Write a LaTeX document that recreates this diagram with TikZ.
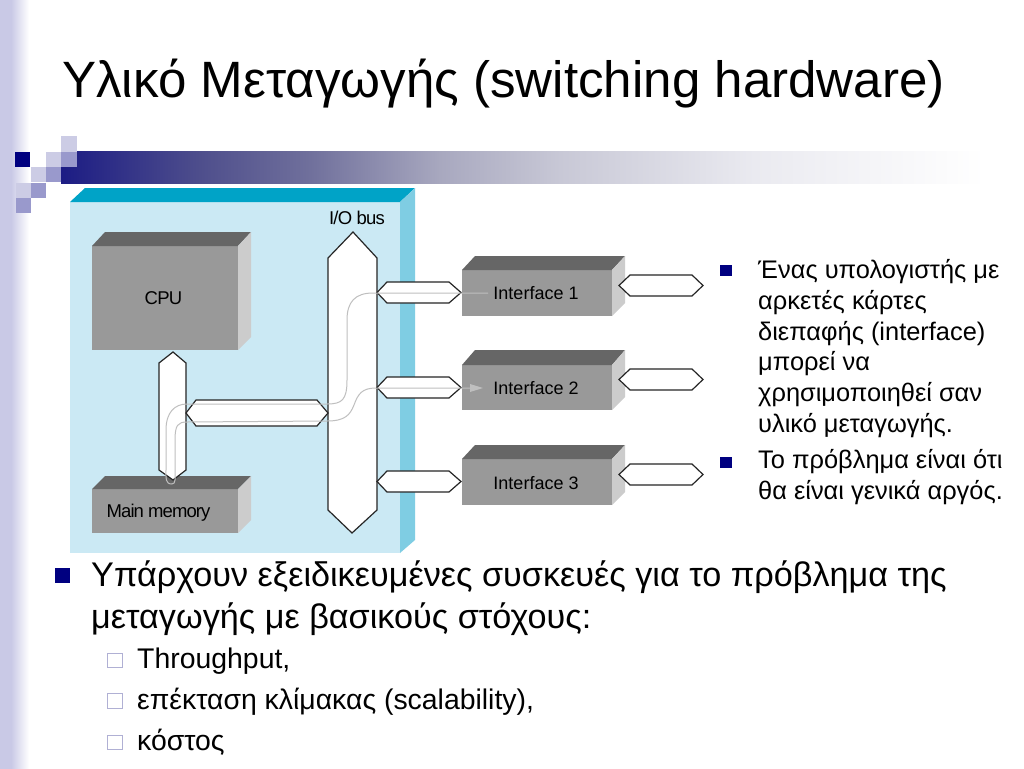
\documentclass[tikz,border=0pt]{standalone}
\usepackage{fontspec}
\setmainfont{Liberation Sans}
\definecolor{barA}{HTML}{1C1C84}
\definecolor{barB}{HTML}{4E4E8C}
\definecolor{barC}{HTML}{70709C}
\definecolor{barD}{HTML}{A8A8BF}
\definecolor{barE}{HTML}{C8C8D6}
\definecolor{barF}{HTML}{EAEAF0}
\definecolor{stripA}{HTML}{C9C9E6}
\definecolor{navy}{HTML}{000080}
\definecolor{midsq}{HTML}{9999CC}
\definecolor{lightsq}{HTML}{CCCCE5}
\definecolor{panelfront}{HTML}{CBE9F4}
\definecolor{paneltop}{HTML}{00A3C7}
\definecolor{panelside}{HTML}{7FCDE3}
\definecolor{boxfront}{HTML}{999999}
\definecolor{boxtop}{HTML}{666666}
\definecolor{boxside}{HTML}{CCCCCC}
\definecolor{wire}{HTML}{BFBFBF}
\definecolor{hollowedge}{HTML}{B0B0D4}
\pgfdeclarehorizontalshading{barshade}{100bp}{color(0bp)=(barA); color(25bp)=(barA); color(32.5bp)=(barB); color(38.5bp)=(barC); color(45.5bp)=(barD); color(52bp)=(barE); color(62.5bp)=(barF); color(75bp)=(white); color(100bp)=(white)}
\pgfdeclarehorizontalshading{stripshade}{100bp}{color(0bp)=(stripA); color(25bp)=(stripA); color(44bp)=(stripA); color(75bp)=(white); color(100bp)=(white)}
\tikzset{
  hex/.style={draw=black!85,fill=white,line width=1.2pt,line join=miter},
  wireline/.style={draw=wire,line width=1pt},
  label/.style={anchor=base,inner sep=0pt,font=\fontsize{18}{18}\selectfont,text=black},
  tightlabel/.style={anchor=base,inner sep=0pt,font=\fontsize{18.5}{18.5}\selectfont\addfontfeature{LetterSpace=-4},text=black},
  tighterlabel/.style={anchor=base,inner sep=0pt,font=\fontsize{18.5}{18.5}\selectfont\addfontfeature{LetterSpace=-5},text=black},
  titletext/.style={anchor=base west,inner sep=0pt,font=\fontsize{51.1}{51.1}\selectfont},
  bodyA/.style={anchor=base west,inner sep=0pt,font=\fontsize{34.2}{34.2}\selectfont},
  bodyB/.style={anchor=base west,inner sep=0pt,font=\fontsize{28.4}{28.4}\selectfont},
  bodyC/.style={anchor=base west,inner sep=0pt,font=\fontsize{25.4}{25.4}\selectfont},
  bulletfull/.style={fill=navy},
  bullethollow/.style={draw=hollowedge,line width=1pt,fill=white},
}
\newcommand{\ibox}[5]{% x0 x1 ytop yfront ybottom
  \fill[boxfront] (#1,#4) rectangle (#2,#5);
  \fill[boxtop] (#1,#4) -- ({#1+13},#3) -- ({#2+13},#3) -- (#2,#4) -- cycle;
  \fill[boxside] (#2,#4) -- ({#2+13},#3) -- ({#2+13},{#5-13}) -- (#2,#5) -- cycle;
}
\newcommand{\hexh}[6]{% tipL shL shR tipR ytop ybot
  \draw[hex] (#1,{(#5+#6)/2}) -- (#2,#5) -- (#3,#5) -- (#4,{(#5+#6)/2}) -- (#3,#6) -- (#2,#6) -- cycle;
}
\begin{document}
\begin{tikzpicture}[x=1pt,y=-1pt]
\useasboundingbox (0,0) rectangle (1024,768);
\fill[white] (0,0) rectangle (1024,768);
% background strip and bar
\shade[shading=stripshade] (0,0) rectangle (29,768);
\shade[shading=barshade] (61,151) rectangle (985,183);
% squares
\fill[white] (61,151) rectangle (77,152);
\fill[navy] (15,152) rectangle (30,167);
\fill[lightsq] (46,152) rectangle (61,167);
\fill[midsq] (61,152) rectangle (77,167);
\fill[lightsq] (61,136) rectangle (77,152);
\fill[lightsq] (31,167) rectangle (46,182);
\fill[midsq] (46,167) rectangle (61,182);
\fill[lightsq] (16,183) rectangle (31,198);
\fill[midsq] (31,183) rectangle (46,198);
\fill[midsq] (16,198) rectangle (31,213);
% title
\node[titletext] (title) at (62,97) {Υλικό Μεταγωγής (switching hardware)};
% panel
\fill[panelfront] (70,202) rectangle (400,553);
\fill[paneltop] (70,202) -- (85,188) -- (415,188) -- (400,202) -- cycle;
\fill[panelside] (400,202) -- (415,188) -- (415,540) -- (400,553) -- cycle;
% boxes
\fill[boxfront] (92,246) rectangle (238,350);
\fill[boxtop] (92,246) -- (105,232) -- (251,232) -- (238,246) -- cycle;
\fill[boxside] (238,246) -- (251,232) -- (251,337) -- (238,350) -- cycle;
\ibox{92}{238}{476}{489}{533}
\ibox{462}{612}{256}{270}{316}
\ibox{462}{612}{350}{365}{410}
\ibox{462}{612}{445}{459}{505}
% hexagons
\draw[hex] (353,232) -- (377,258) -- (377,510) -- (352,533) -- (328,510) -- (328,258) -- cycle;
\draw[hex] (173,352) -- (186,363) -- (186,470) -- (173,480) -- (159,470) -- (159,363) -- cycle;
\hexh{186}{196}{317}{328}{400}{426}
\hexh{377}{387}{449}{461}{282}{303}
\hexh{377}{387}{449}{461}{377}{398}
\hexh{377}{387}{449}{461}{471}{492}
\hexh{619}{630}{692}{703}{275}{296}
\hexh{619}{630}{692}{703}{369}{390}
\hexh{619}{630}{692}{703}{464}{485}
% labels
\node[tightlabel] (cpu) at (163.5,304) {CPU};
\node[tighterlabel] (mem) at (158.5,517) {Main memory};
\node[tightlabel] (iobus) at (357,224) {I/O bus};
\node[label] (if1) at (536,299.5) {Interface 1};
\node[label] (if2) at (536,394.5) {Interface 2};
\node[label] (if3) at (536,489.5) {Interface 3};
% wires
\coordinate (wstart) at (172,484);
\coordinate (w1end) at (488,293);
\coordinate (w2end) at (483,388);
\draw[wireline] (wstart) .. controls (165,484) and (166,478) .. (166,470) -- (166,430)
  .. controls (166,412) and (175,404) .. (187,404) -- (327,404)
  .. controls (342,404) and (347,400) .. (347,380) -- (347,320)
  .. controls (347,302) and (355,293) .. (373,293) -- (w1end);
\draw[wireline] (wstart) .. controls (176,484) and (175,478) .. (175,470) -- (175,440)
  .. controls (175,425) and (178,422) .. (187,422) -- (327,421)
  .. controls (345,421) and (350,415) .. (354,405)
  .. controls (358,394) and (362,388) .. (376,388) -- (470,388);
\fill[wire] (w2end) -- (470,384) -- (470,392) -- cycle;
% bullets
\fill[bulletfull] (720,265) rectangle (732,276);
\node[bodyC] (r1) at (758,278) {Ένας υπολογιστής με};
\node[bodyC] (r2) at (758,309) {αρκετές κάρτες};
\node[bodyC] (r3) at (758,340) {διεπαφής (interface)};
\node[bodyC] (r4) at (758,370) {μπορεί να};
\node[bodyC] (r5) at (758,401) {χρησιμοποιηθεί σαν};
\node[bodyC] (r6) at (758,432) {υλικό μεταγωγής.};
\fill[bulletfull] (720,457) rectangle (732,468);
\node[bodyC] (r7) at (758,468) {Το πρόβλημα είναι ότι};
\node[bodyC] (r8) at (758,499) {θα είναι γενικά αργός.};
\fill[bulletfull] (55,568) rectangle (70,583);
\node[bodyA] (b1) at (91,586) {Υπάρχουν εξειδικευμένες συσκευές για το πρόβλημα της};
\node[bodyA] (b2) at (91,628) {μεταγωγής με βασικούς στόχους:};
\draw[bullethollow] (107,653) rectangle (122,667);
\node[bodyB] (s1) at (137,668) {Throughput,};
\draw[bullethollow] (107,693) rectangle (122,708);
\node[bodyB] (s2) at (137,709) {επέκταση κλίμακας (scalability),};
\draw[bullethollow] (107,735) rectangle (122,749);
\node[bodyB] (s3) at (137,750) {κόστος};
\end{tikzpicture}
\end{document}
